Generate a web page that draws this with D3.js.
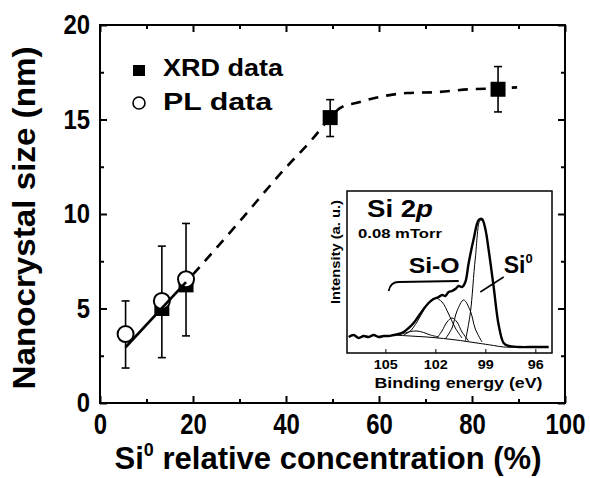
<!DOCTYPE html>
<html>
<head>
<meta charset="utf-8">
<script src="https://cdn.jsdelivr.net/npm/d3@7"></script>
<style>
body { margin: 0; background: #fff; }
svg text { font-family: "Liberation Sans", Arial, sans-serif; font-weight: bold; }
</style>
</head>
<body>
<svg id="chart" width="590" height="478"></svg>
<script>
// main plot: XRD squares, PL circles (nm vs Si0 %)
var xrdX = [13.3, 18.5, 49.5, 85.6];
var xrdY = [5.0, 6.25, 15.1, 16.6];
var xrdLow = [null, null, 14.1, 15.4];
var xrdHigh = [null, null, 16.05, 17.8];

var plX = [5.5, 13.3, 18.5];
var plY = [3.65, 5.4, 6.55];
var plLow = [1.85, 2.4, 3.55];
var plHigh = [5.4, 8.3, 9.5];

// solid linear fit through the low points
var fitX = [5.5, 18.5];
var fitY = [2.95, 6.4];

// dashed guide to the eye
var guideX = [20, 30, 39.4, 45.8, 49.5, 51.6, 55.5, 60.2, 66, 72.5, 79.6, 85.6, 89.7];
var guideY = [6.8, 9.6, 12.3, 14.0, 15.1, 15.6, 15.9, 16.2, 16.4, 16.45, 16.6, 16.65, 16.7];

var xTicks = [0, 20, 40, 60, 80, 100];
var xMinor = [10, 30, 50, 70, 90];
var yTicks = [0, 5, 10, 15, 20];
var yMinor = [2.5, 7.5, 12.5, 17.5];

// inset: Si 2p spectrum (binding energy eV, intensity a.u.)
var specE = [107.2, 106.9, 106.6, 106.3, 106.0, 105.7, 105.4, 105.1, 104.8, 104.5, 104.2, 103.9,
    103.6, 103.3, 103.0, 102.7, 102.4, 102.1, 101.8, 101.6, 101.4, 101.2, 101.0, 100.8, 100.6,
    100.4, 100.2, 100.0, 99.7, 99.4, 99.2, 99.0, 98.8, 98.5, 98.2, 97.9, 97.6, 97.0, 96.0, 95.2];
var specI = [16, 18, 15, 17, 16, 18, 16, 17, 17, 18, 19, 21,
    25, 30, 37, 44, 50, 54, 56, 58, 57, 61, 62, 64, 67,
    66, 71, 90, 114, 133, 134, 124, 103, 66, 28, 10, 7, 6, 6, 6];

var bgE = [104.5, 103.5, 102.5, 101.5, 100.5, 99.5, 98.5, 97.9, 97.0];
var bgI = [18, 17, 16, 14.5, 12.5, 10, 7.5, 6, 6];

var c1E = [104.2, 103.8, 103.5, 103.1, 102.7, 102.3, 101.8];
var c1I = [18, 20, 21.5, 22, 20.5, 18, 16];
var c2E = [103.9, 103.5, 103.1, 102.7, 102.4, 102.0, 101.6, 101.2, 100.8, 100.4];
var c2I = [18, 22, 31, 43, 51, 55, 51, 39, 25, 15];
var c3E = [101.9, 101.6, 101.3, 101.0, 100.7, 100.4, 100.0];
var c3I = [15, 22, 31, 35, 31, 21, 12];
var c4E = [101.4, 101.0, 100.7, 100.3, 99.9, 99.6, 99.2];
var c4I = [14, 25, 42, 53, 42, 24, 11];
var c5E = [100.2, 99.9, 99.6, 99.3, 99.1, 98.8, 98.5, 98.2, 97.9];
var c5I = [12, 40, 95, 133, 130, 103, 66, 28, 9];

var insetTicks = [105, 102, 99, 96];

var svg = d3.select("#chart");
var x = d3.scaleLinear().domain([0, 100]).range([100, 565]);
var y = d3.scaleLinear().domain([0, 20]).range([403, 25]);

var ix = d3.scaleLinear().domain([107.3, 95]).range([347, 552]);
var iy = d3.scaleLinear().domain([0, 162]).range([353, 191]);

function zip(a, b) {
    return a.map((v, i) => [v, b[i]]);
}

drawAxes();
drawInset();
drawData();
drawLegend();

function styleAxis(g, size, digitW) {
    g.select(".domain").remove();
    g.attr("font-size", size).attr("font-family", null);
    g.selectAll(".tick line").attr("stroke-width", 2);
    g.selectAll("text")
        .attr("textLength", d => String(d).length * digitW)
        .attr("lengthAdjust", "spacingAndGlyphs");
}

function drawAxes() {
    var g = svg.append("g").attr("class", "axes");

    g.append("g").attr("transform", "translate(0,403)")
        .call(d3.axisBottom(x).tickValues(xTicks).tickSizeInner(-7).tickSizeOuter(0).tickPadding(10))
        .call(a => styleAxis(a, 29, 13.3));
    g.append("g").attr("transform", "translate(0,403)")
        .call(d3.axisBottom(x).tickValues(xMinor).tickSizeInner(-4).tickSizeOuter(0).tickFormat(""))
        .call(a => styleAxis(a, 10, 0));
    g.append("g").attr("transform", "translate(0,25)")
        .call(d3.axisTop(x).tickValues(xTicks).tickSizeInner(-7).tickSizeOuter(0).tickFormat(""))
        .call(a => styleAxis(a, 10, 0));
    g.append("g").attr("transform", "translate(0,25)")
        .call(d3.axisTop(x).tickValues(xMinor).tickSizeInner(-4).tickSizeOuter(0).tickFormat(""))
        .call(a => styleAxis(a, 10, 0));

    g.append("g").attr("transform", "translate(100,0)")
        .call(d3.axisLeft(y).tickValues(yTicks).tickSizeInner(-7).tickSizeOuter(0).tickPadding(10))
        .call(a => styleAxis(a, 27, 13.3));
    g.append("g").attr("transform", "translate(100,0)")
        .call(d3.axisLeft(y).tickValues(yMinor).tickSizeInner(-4).tickSizeOuter(0).tickFormat(""))
        .call(a => styleAxis(a, 10, 0));
    g.append("g").attr("transform", "translate(565,0)")
        .call(d3.axisRight(y).tickValues(yTicks).tickSizeInner(-7).tickSizeOuter(0).tickFormat(""))
        .call(a => styleAxis(a, 10, 0));
    g.append("g").attr("transform", "translate(565,0)")
        .call(d3.axisRight(y).tickValues(yMinor).tickSizeInner(-4).tickSizeOuter(0).tickFormat(""))
        .call(a => styleAxis(a, 10, 0));

    g.append("rect")
        .attr("x", x(0)).attr("y", y(20))
        .attr("width", x(100) - x(0)).attr("height", y(0) - y(20))
        .attr("fill", "none").attr("stroke", "#000").attr("stroke-width", 2);

    var xt = g.append("text")
        .attr("x", 328).attr("y", 469)
        .attr("text-anchor", "middle")
        .attr("font-size", 31);
    xt.append("tspan").text("Si");
    xt.append("tspan").attr("font-size", 18).attr("dy", -13).text("0");
    xt.append("tspan").attr("dy", 13).text(" relative concentration (%)");

    g.append("text")
        .attr("transform", "translate(35,218) rotate(-90)")
        .attr("text-anchor", "middle")
        .attr("font-size", 31)
        .attr("textLength", 343)
        .attr("lengthAdjust", "spacingAndGlyphs")
        .text("Nanocrystal size (nm)");
}

function drawInset() {
    var g = svg.append("g").attr("class", "inset");
    var left = ix.range()[0], right = ix.range()[1];
    var top = iy.range()[1], bottom = iy.range()[0];

    g.append("rect")
        .attr("x", left).attr("y", top)
        .attr("width", right - left).attr("height", bottom - top)
        .attr("fill", "#fff").attr("stroke", "#000").attr("stroke-width", 1.5);

    var line = d3.line()
        .x(d => ix(d[0]))
        .y(d => iy(d[1]))
        .curve(d3.curveCatmullRom);

    [zip(bgE, bgI), zip(c1E, c1I), zip(c2E, c2I), zip(c3E, c3I), zip(c4E, c4I), zip(c5E, c5I)]
        .forEach(comp => {
            g.append("path")
                .attr("d", line(comp))
                .attr("fill", "none").attr("stroke", "#000").attr("stroke-width", 1);
        });

    g.append("path")
        .attr("d", line(zip(specE, specI)))
        .attr("fill", "none").attr("stroke", "#000").attr("stroke-width", 2.4)
        .attr("stroke-linejoin", "round");

    var ax = g.append("g").attr("transform", "translate(0," + bottom + ")")
        .call(d3.axisBottom(ix).tickValues(insetTicks).tickSizeInner(-4).tickSizeOuter(0).tickPadding(7));
    ax.select(".domain").remove();
    ax.attr("font-size", 12).attr("font-family", null);
    ax.selectAll("text").attr("textLength", 24).attr("lengthAdjust", "spacingAndGlyphs")
        .filter(d => d < 100).attr("textLength", 16);

    g.append("text")
        .attr("x", (left + right) / 2 + 9).attr("y", 388)
        .attr("text-anchor", "middle")
        .attr("font-size", 14)
        .attr("textLength", 168).attr("lengthAdjust", "spacingAndGlyphs")
        .text("Binding energy (eV)");

    g.append("text")
        .attr("transform", "translate(340,252) rotate(-90)")
        .attr("text-anchor", "middle")
        .attr("font-size", 12)
        .attr("textLength", 104).attr("lengthAdjust", "spacingAndGlyphs")
        .text("Intensity (a. u.)");

    var title = g.append("text")
        .attr("x", left + 20).attr("y", top + 26)
        .attr("font-size", 23)
        .attr("textLength", 66).attr("lengthAdjust", "spacingAndGlyphs");
    title.append("tspan").text("Si 2");
    title.append("tspan").attr("font-style", "italic").text("p");

    g.append("text")
        .attr("x", left + 11).attr("y", top + 47)
        .attr("font-size", 12)
        .attr("textLength", 84).attr("lengthAdjust", "spacingAndGlyphs")
        .text("0.08 mTorr");

    g.append("text")
        .attr("x", ix(103.6)).attr("y", iy(80))
        .attr("font-size", 22)
        .attr("textLength", 51).attr("lengthAdjust", "spacingAndGlyphs")
        .text("Si-O");

    var si = g.append("text")
        .attr("x", ix(97.9)).attr("y", iy(80))
        .attr("font-size", 23);
    si.append("tspan").text("Si");
    si.append("tspan").attr("font-size", 13).attr("dy", -10).text("0");

    // bracket under Si-O and pointer to Si0 peak
    g.append("path")
        .attr("d", "M" + ix(104.8) + "," + iy(62) +
            "Q" + ix(104.7) + "," + iy(71) + " " + ix(104.2) + "," + iy(71) +
            "L" + ix(100.6) + "," + iy(72))
        .attr("fill", "none").attr("stroke", "#000").attr("stroke-width", 1.8);
    g.append("line")
        .attr("x1", ix(99.3)).attr("y1", iy(61))
        .attr("x2", ix(97.9)).attr("y2", iy(76))
        .attr("stroke", "#000").attr("stroke-width", 1.5);
}

function drawData() {
    var g = svg.append("g").attr("class", "data");

    var xrd = xrdX.map((v, i) => ({x: v, y: xrdY[i], lo: xrdLow[i], hi: xrdHigh[i]}));
    var pl = plX.map((v, i) => ({x: v, y: plY[i], lo: plLow[i], hi: plHigh[i]}));
    var bars = xrd.filter(d => d.lo !== null).concat(pl);
    var cap = 4;

    var eb = g.selectAll(".errbar").data(bars).enter().append("g").classed("errbar", true)
        .attr("stroke", "#000").attr("stroke-width", 1.6);
    eb.append("line")
        .attr("x1", d => x(d.x)).attr("x2", d => x(d.x))
        .attr("y1", d => y(d.lo)).attr("y2", d => y(d.hi));
    eb.append("line")
        .attr("x1", d => x(d.x) - cap).attr("x2", d => x(d.x) + cap)
        .attr("y1", d => y(d.lo)).attr("y2", d => y(d.lo));
    eb.append("line")
        .attr("x1", d => x(d.x) - cap).attr("x2", d => x(d.x) + cap)
        .attr("y1", d => y(d.hi)).attr("y2", d => y(d.hi));

    var side = 15;
    g.selectAll(".xrd").data(xrd).enter().append("rect").classed("xrd", true)
        .attr("x", d => x(d.x) - side / 2).attr("y", d => y(d.y) - side / 2)
        .attr("width", side).attr("height", side)
        .attr("fill", "#000");

    g.selectAll(".pl").data(pl).enter().append("circle").classed("pl", true)
        .attr("cx", d => x(d.x)).attr("cy", d => y(d.y))
        .attr("r", 8)
        .attr("fill", "#fff").attr("stroke", "#000").attr("stroke-width", 2);

    var line = d3.line().x(d => x(d[0])).y(d => y(d[1]));

    g.append("path")
        .attr("d", line(zip(fitX, fitY)))
        .attr("fill", "none").attr("stroke", "#000").attr("stroke-width", 2.6);

    g.append("path")
        .attr("d", line.curve(d3.curveMonotoneX)(zip(guideX, guideY)))
        .attr("fill", "none").attr("stroke", "#000").attr("stroke-width", 2.6)
        .attr("stroke-dasharray", "10,8");
}

function drawLegend() {
    var g = svg.append("g").attr("class", "legend");
    g.append("rect")
        .attr("x", 133).attr("y", 65).attr("width", 12).attr("height", 11)
        .attr("fill", "#000");
    g.append("circle")
        .attr("cx", 139).attr("cy", 103).attr("r", 6)
        .attr("fill", "#fff").attr("stroke", "#000").attr("stroke-width", 1.6);
    g.append("text")
        .attr("x", 163).attr("y", 76)
        .attr("font-size", 24)
        .attr("textLength", 120).attr("lengthAdjust", "spacingAndGlyphs")
        .text("XRD data");
    g.append("text")
        .attr("x", 163).attr("y", 110)
        .attr("font-size", 24)
        .attr("textLength", 109).attr("lengthAdjust", "spacingAndGlyphs")
        .text("PL data");
}
</script>
</body>
</html>
